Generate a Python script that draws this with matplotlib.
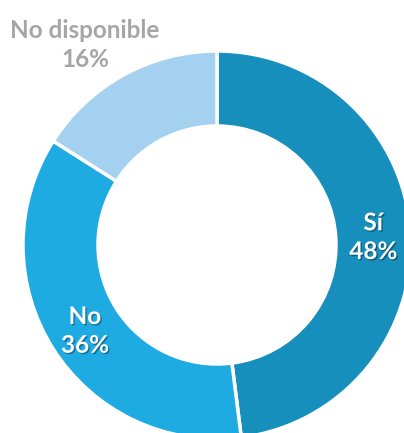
import numpy as np
import matplotlib.pyplot as plt
import matplotlib.patheffects as path_effects

labels = ['Sí', 'No', 'No disponible']
values = [48, 36, 16]
colours = ['#178fbd', '#1eabe2', '#a3d1ef']

# pixel geometry of the ring (figure is 404x433 px)
cx, cy = 217, 433 - 245
r_out, r_in = 194, 119

fig = plt.figure(figsize=(4.04, 4.33), dpi=100)
ax = fig.add_axes([0, 0, 1, 1])
ax.set_xlim(0, 404)
ax.set_ylim(0, 433)
ax.set_aspect('equal')
ax.axis('off')

wedges, _ = ax.pie(values, colors=colours, startangle=90, counterclock=False,
                   radius=r_out, center=(cx, cy),
                   wedgeprops=dict(width=r_out - r_in, edgecolor='white', linewidth=2.5))
ax.set_xlim(0, 404)
ax.set_ylim(0, 433)

font = dict(family=['Lato', 'DejaVu Sans'], fontweight='bold', fontsize=17.5,
            ha='center', va='center', linespacing=1.3)
shadow = [path_effects.withSimplePatchShadow(offset=(1, -1), shadow_rgbFace='black', alpha=0.35)]

r_mid = (r_out + r_in) / 2
for w, lab, v in zip(wedges, labels, values):
    if lab == 'No disponible':
        continue
    ang = np.deg2rad((w.theta1 + w.theta2) / 2)
    x = cx + r_mid * np.cos(ang)
    y = cy + r_mid * np.sin(ang)
    t = ax.text(x, y - 2, f'{lab}\n{v}%', color='white', **font)
    t.set_path_effects(shadow)

ax.text(85, 433 - 45, f'{labels[2]}\n{values[2]}%', color='#a6a6a6', **font)

fig.savefig('out.png', dpi=100, facecolor='white')
